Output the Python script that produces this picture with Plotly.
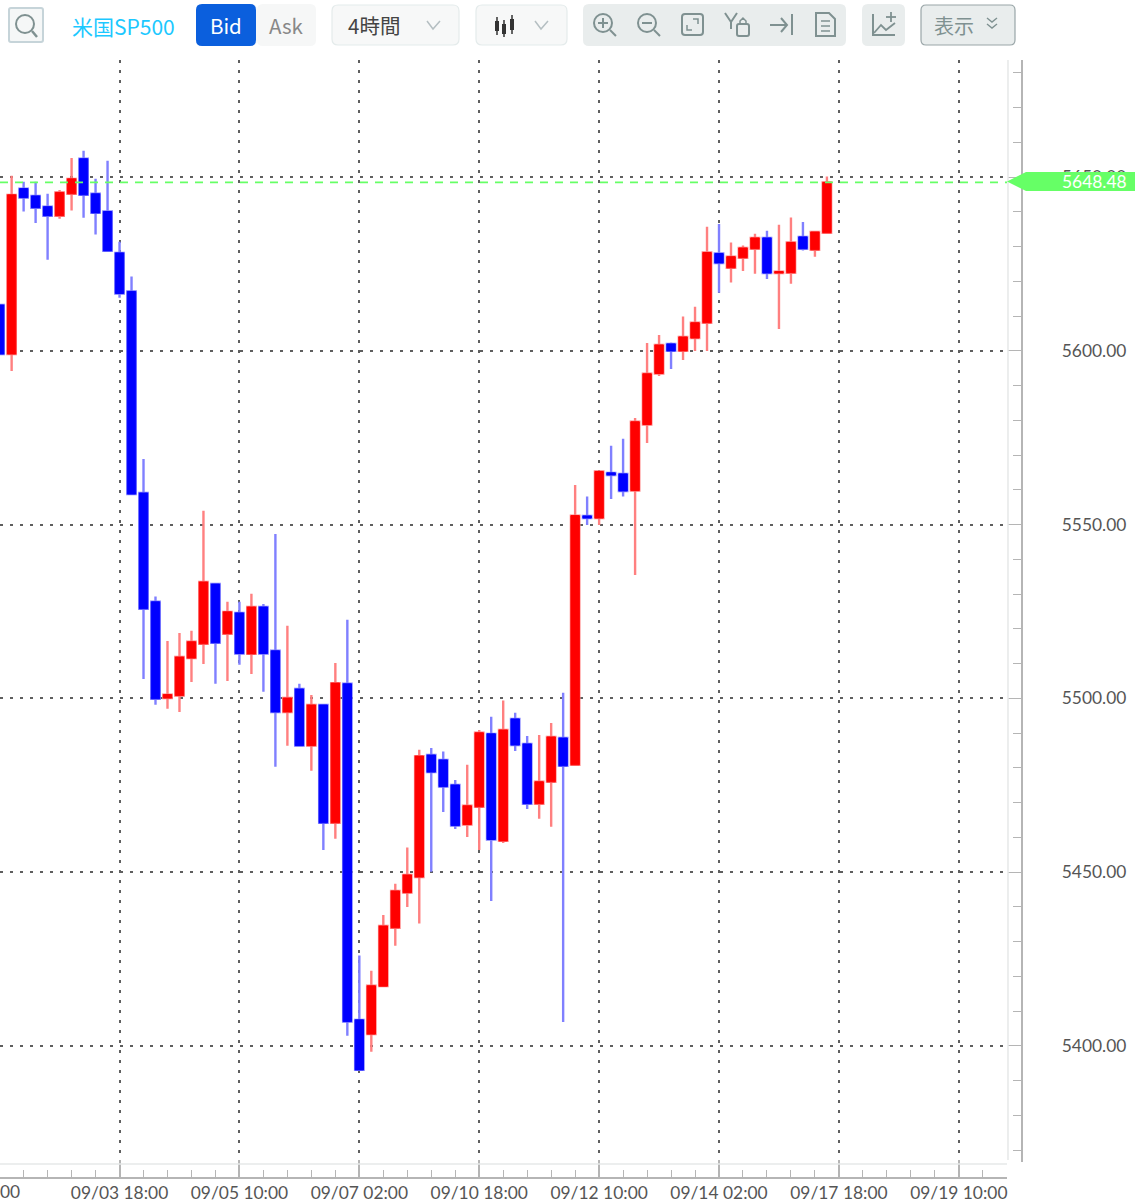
import plotly.graph_objects as go

W, H = 1142, 1200

# ---------- data ----------
candle_index = list(range(-1, 69))
opens = [5613.2,5599.1,5646.7,5644.6,5641.5,5638.9,5645.2,5655.3,5645.2,5640.1,
         5628.2,5617.1,5559.1,5527.8,5500.1,5500.8,5511.6,5515.7,5532.9,5518.6,
         5524.6,5512.8,5526.3,5513.7,5496.1,5502.7,5486.4,5498.1,5464.2,5504.2,
         5407.5,5403.4,5417.2,5434.0,5444.1,5448.6,5483.7,5482.3,5475.1,5463.7,
         5468.8,5489.8,5459.0,5494.1,5486.9,5469.7,5476.0,5488.6,5480.9,5552.5,
         5551.9,5564.9,5564.6,5559.8,5578.8,5593.5,5602.0,5600.0,5603.7,5608.1,
         5628.0,5623.9,5626.8,5629.4,5632.5,5622.4,5622.5,5632.8,5629.1,5634.0]
highs = [5613.2,5650.4,5648.7,5648.7,5645.2,5646.3,5655.5,5657.6,5649.5,5654.7,
         5631.4,5621.4,5568.9,5529.3,5516.5,5518.8,5519.5,5554.0,5533.2,5527.8,
         5527.8,5530.1,5527.2,5547.3,5520.9,5504.2,5501.0,5498.1,5510.2,5522.6,
         5426.0,5421.6,5437.7,5446.7,5457.1,5485.2,5485.7,5484.7,5476.5,5480.9,
         5490.9,5494.7,5499.4,5495.9,5489.2,5489.5,5492.9,5501.6,5561.4,5558.1,
         5565.5,5572.7,5574.7,5580.7,5602.3,5604.6,5602.4,5609.9,5612.7,5635.7,
         5636.5,5631.2,5630.3,5633.7,5634.6,5636.3,5638.4,5637.1,5634.2,5650.2]
lows = [5599.1,5594.2,5640.1,5636.8,5626.2,5638.0,5640.4,5638.3,5633.5,5628.8,
        5615.3,5558.8,5505.6,5498.2,5497.0,5496.1,5504.7,5509.9,5504.2,5505.0,
        5509.7,5507.0,5501.9,5480.3,5486.4,5486.4,5479.2,5456.4,5459.6,5402.9,
        5393.1,5398.3,5417.2,5428.8,5440.0,5435.2,5450.1,5467.3,5462.4,5460.1,
        5456.4,5441.7,5458.4,5484.9,5468.2,5465.4,5463.1,5406.9,5480.9,5549.9,
        5549.9,5557.4,5558.1,5535.5,5573.5,5592.8,5594.8,5597.4,5600.0,5600.0,
        5616.7,5619.7,5623.0,5622.2,5620.7,5606.3,5619.3,5628.9,5627.1,5634.0]
closes = [5599.1,5644.9,5644.1,5641.2,5638.9,5645.6,5649.5,5644.9,5639.7,5628.8,
          5616.5,5558.8,5525.8,5499.9,5501.1,5511.9,5516.3,5533.5,5516.0,5524.9,
          5512.9,5526.3,5512.9,5496.1,5500.1,5486.4,5498.1,5464.2,5504.4,5407.0,
          5393.1,5417.3,5434.5,5444.6,5449.2,5483.4,5478.8,5474.6,5463.4,5469.1,
          5490.1,5459.4,5490.9,5486.6,5469.7,5476.0,5488.9,5480.6,5552.6,5551.9,
          5565.3,5564.3,5559.7,5579.6,5593.4,5601.7,5600.0,5604.0,5608.1,5628.3,
          5625.3,5627.1,5629.6,5632.5,5622.4,5622.8,5631.2,5629.4,5634.2,5648.48]
assert len(candle_index) == len(opens) == len(highs) == len(lows) == len(closes)

tick_index = [9, 19, 29, 39, 49, 59, 69, 79]
tick_labels = ["09/03 18:00", "09/05 10:00", "09/07 02:00", "09/10 18:00",
               "09/12 10:00", "09/14 02:00", "09/17 18:00", "09/19 10:00"]
last_price = closes[-1]

# ---------- view window ----------
x_range = [-0.97, 83.02]
y_range = [5366.6, 5683.7]

UP, DOWN = "#ff0000", "#0000ff"
UP_WICK, DOWN_WICK = "#ff8080", "#8080ff"
ICON = "#7f9191"
AXIS_FONT = dict(family="Lato", size=17.4, color="#555555")


def px(x):
    return x / W


def py(y):
    return 1 - y / H


def path(d):
    """d: list of SVG-like commands in page pixels."""
    out = []
    for c in d:
        if isinstance(c, str):
            out.append(c)
        else:
            out.append(f"{px(c[0]):.5f},{py(c[1]):.5f}")
    return " ".join(out)


shapes = []


def rect(x0, y0, x1, y1, fill, line=None, lw=1, r=4):
    shapes.append(dict(
        type="path", xref="paper", yref="paper", layer="above",
        path=path(["M", (x0 + r, y0), "L", (x1 - r, y0), "Q", (x1, y0), (x1, y0 + r),
                   "L", (x1, y1 - r), "Q", (x1, y1), (x1 - r, y1),
                   "L", (x0 + r, y1), "Q", (x0, y1), (x0, y1 - r),
                   "L", (x0, y0 + r), "Q", (x0, y0), (x0 + r, y0), "Z"]),
        fillcolor=fill, line=dict(color=line or fill, width=lw if line else 0)))


def poly(points, color=ICON, lw=2, closed=False, fill=None):
    d = []
    for i, p in enumerate(points):
        d += ["M" if i == 0 else "L", p]
    if closed:
        d.append("Z")
    s = dict(type="path", xref="paper", yref="paper", layer="above", path=path(d),
             line=dict(color=color, width=lw))
    if fill:
        s["fillcolor"] = fill
    shapes.append(s)


def circle(cx, cy, r, color=ICON, lw=2):
    shapes.append(dict(type="circle", xref="paper", yref="paper", layer="above",
                       x0=px(cx - r), x1=px(cx + r), y0=py(cy + r), y1=py(cy - r),
                       line=dict(color=color, width=lw)))


annotations = []


def text(x, y, s, size, color, anchor="left", family="Noto Sans CJK JP"):
    annotations.append(dict(xref="paper", yref="paper", x=px(x), y=py(y), text=s,
                            showarrow=False, xanchor=anchor, yanchor="middle",
                            font=dict(family=family, size=size, color=color),
                            borderpad=0, borderwidth=0))


# ---------- chart frame extras ----------
poly([(1008, 60), (1008, 1160)], color="#e6e8e8", lw=1.5)
poly([(0, 1164), (1007, 1164)], color="#e6e8e8", lw=1.5)

# price tag
tag_y = 181.5
poly([(1007, tag_y), (1026, 172), (1135, 172), (1135, 191), (1026, 191)],
     color="#66ff66", lw=0, closed=True, fill="#66ff66")
text(1127, tag_y, f"{last_price:.2f}", 17.4, "#ffffff", anchor="right", family="Lato")
text(0, 1191, "00", 17.4, "#555555", family="Lato")

# ---------- toolbar ----------
rect(9, 8, 43, 42, "#f5f7f7", "#c6d4d9", 2, r=2)
circle(25, 24, 9, ICON, 2)
poly([(32, 31), (37, 37)], ICON, 2.5)

text(72, 26, "米国SP500", 21, "#1cc8ff")

rect(196, 4, 257, 46, "#f6f7f7", r=6)
rect(257, 4, 316, 46, "#f6f7f7", r=6)
rect(196, 4, 256, 46, "#0b5fdd", r=6)
text(226, 25.5, "Bid", 20.5, "#ffffff", anchor="center")
text(286, 25.5, "Ask", 20.5, "#888888", anchor="center")

rect(332, 5, 459, 45, "#f7f8f8", "#e4ebeb", 1.2, r=6)
text(348, 25, "4時間", 20.5, "#444444")
poly([(427, 21), (433, 29), (440, 21)], "#b5bfc2", 1.5)

rect(476, 5, 567, 45, "#f7f8f8", "#e4ebeb", 1.2, r=6)
for cx, y0, y1, b0, b1 in [(497, 17, 35, 21, 31), (504, 20, 37, 24, 34), (512, 15, 34, 19, 30)]:
    poly([(cx, y0), (cx, y1)], "#333333", 1.5)
    poly([(cx, b0), (cx, b1)], "#333333", 4)
poly([(535, 21), (541, 29), (548, 21)], "#b5bfc2", 1.5)

rect(583, 4, 846, 46, "#e9eded", r=6)
# zoom in
circle(603, 23, 9)
poly([(610, 30), (616, 36)])
poly([(598, 23), (608, 23)])
poly([(603, 18), (603, 28)])
# zoom out
circle(647, 23, 9)
poly([(654, 30), (660, 36)])
poly([(642, 23), (652, 23)])
# fit
rect(682, 14, 703, 35, "#e9eded", ICON, 2, r=3)
poly([(693, 19), (698, 19), (698, 24)], ICON, 1.5)
poly([(687, 25), (687, 30), (692, 30)], ICON, 1.5)
# Y lock
poly([(725, 13), (731, 22), (737, 13)])
poly([(731, 22), (731, 29)])
rect(737, 24, 749, 36, "#e9eded", ICON, 2, r=2)
poly([(740, 24), (740, 21), (743, 18), (746, 21), (746, 24)], ICON, 1.5)
# arrow to end
poly([(770, 25), (787, 25)])
poly([(781, 18), (787, 25), (781, 32)])
poly([(792, 14), (792, 35)])
# document
poly([(816, 13), (829, 13), (835, 19), (835, 36), (816, 36)], closed=True)
poly([(821, 21), (830, 21)], ICON, 1.5)
poly([(821, 26), (830, 26)], ICON, 1.5)
poly([(821, 31), (830, 31)], ICON, 1.5)

rect(862, 4, 905, 46, "#e9eded", r=6)
poly([(873, 14), (873, 35), (895, 35)])
poly([(874, 33), (881, 25), (886, 30), (895, 23)], ICON, 1.8)
poly([(891, 12), (891, 22)], ICON, 1.8)
poly([(886, 17), (896, 17)], ICON, 1.8)

rect(921, 5, 1015, 45, "#e9eded", "#9aa6a8", 1.2, r=5)
text(934, 25, "表示", 20, ICON)
poly([(987, 18), (992, 22), (997, 18)], ICON, 1.4)
poly([(987, 24), (992, 28), (997, 24)], ICON, 1.4)

# ---------- traces ----------
fig = go.Figure()
# full candles: pale wicks and a pale halo round each body
fig.add_trace(go.Candlestick(
    x=candle_index, open=opens, high=highs, low=lows, close=closes,
    increasing=dict(line=dict(color=UP_WICK, width=2.4), fillcolor=UP),
    decreasing=dict(line=dict(color=DOWN_WICK, width=2.4), fillcolor=DOWN),
    whiskerwidth=0, showlegend=False, name="米国SP500", xaxis="x", yaxis="y",
))
# solid bodies on top (open to close only)
fig.add_trace(go.Candlestick(
    x=candle_index, open=opens, close=closes,
    high=[max(o, c) for o, c in zip(opens, closes)],
    low=[min(o, c) for o, c in zip(opens, closes)],
    increasing=dict(line=dict(color=UP, width=1), fillcolor=UP),
    decreasing=dict(line=dict(color=DOWN, width=1), fillcolor=DOWN),
    whiskerwidth=0, showlegend=False, name="実体", xaxis="x", yaxis="y",
))
fig.add_trace(go.Scatter(
    x=x_range, y=[last_price, last_price], mode="lines", showlegend=False,
    line=dict(color="#66ff66", width=1.6, dash="8px,7px"), xaxis="x", yaxis="y2",
    hoverinfo="skip",
))

fig.update_layout(
    width=W, height=H, margin=dict(l=0, r=0, t=0, b=0, autoexpand=False),
    paper_bgcolor="#ffffff", plot_bgcolor="#ffffff",
    boxmode="overlay", boxgap=0.3, boxgroupgap=0, showlegend=False,
    shapes=shapes, annotations=annotations,
    xaxis=dict(
        domain=[0, 1007 / W], range=x_range, anchor="free", position=1 - 1177.5 / H,
        tickmode="array", tickvals=tick_index, ticktext=tick_labels,
        rangeslider=dict(visible=False),
        showgrid=True, gridcolor="#5f5f5f", griddash="3px,7px", gridwidth=1.6,
        zeroline=False, showline=True, linecolor="#b5b5b5", linewidth=1.5,
        ticks="inside", ticklen=17, tickwidth=1.5, tickcolor="#b5b5b5",
        minor=dict(tickmode="linear", tick0=9, dtick=2, ticks="inside", ticklen=7,
                   tickwidth=1, tickcolor="#b5b5b5", showgrid=False),
        tickfont=AXIS_FONT, tickangle=0, ticklabelstandoff=0,
    ),
    yaxis=dict(
        domain=[1 - 1162 / H, 1 - 60 / H], range=y_range,
        tickmode="linear", tick0=5400, dtick=50,
        showgrid=True, gridcolor="#5f5f5f", griddash="3px,7px", gridwidth=1.6,
        zeroline=False, showline=False, ticks="", showticklabels=False,
    ),
    yaxis2=dict(
        domain=[1 - 1162 / H, 1 - 60 / H], range=y_range, overlaying="y",
        anchor="free", position=1021.5 / W, side="right",
        tickmode="linear", tick0=5400, dtick=50, tickformat=".2f",
        showgrid=False, zeroline=False, showline=True, linecolor="#b5b5b5", linewidth=1.5,
        ticks="inside", ticklen=13, tickwidth=1.2, tickcolor="#b5b5b5",
        minor=dict(tickmode="linear", tick0=5400, dtick=10, ticks="inside", ticklen=8,
                   tickwidth=1, tickcolor="#b5b5b5", showgrid=False),
        tickfont=AXIS_FONT, ticklabelstandoff=36,
    ),
)

fig.write_html("out.html", config=dict(displayModeBar=False),
               post_script="document.body.style.margin='0';")
